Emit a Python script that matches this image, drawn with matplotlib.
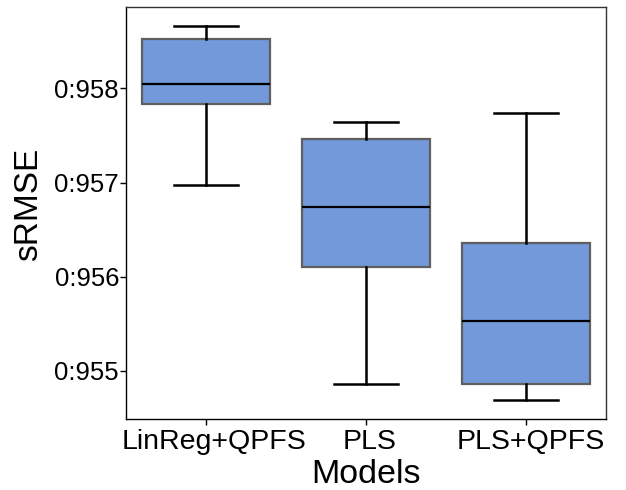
import numpy as np
import matplotlib
matplotlib.use("Agg")
import matplotlib.pyplot as plt
import matplotlib.transforms as mtrans
from matplotlib.ticker import FixedLocator, FixedFormatter

plt.rcParams['font.family'] = ['Liberation Sans', 'DejaVu Sans']

models = ["LinReg+QPFS", "PLS", "PLS+QPFS"]
whisker_lo = [0.956975, 0.954862, 0.954689]
q1 = [0.957838, 0.956101, 0.954862]
median = [0.958043, 0.956738, 0.955528]
q3 = [0.958528, 0.957460, 0.956355]
whisker_hi = [0.958662, 0.957643, 0.957736]

yticks = [0.955, 0.956, 0.957, 0.958]
ytick_labels = ["0:955", "0:956", "0:957", "0:958"]

stats = []
for i, name in enumerate(models):
    stats.append(dict(label=name, whislo=whisker_lo[i], q1=q1[i], med=median[i],
                      q3=q3[i], whishi=whisker_hi[i], fliers=[]))

fig = plt.figure(figsize=(6.26, 4.9), dpi=100)
ax = fig.add_axes([126/626, 1-419/490, 480/626, 412/490])

ax.bxp(stats, positions=range(len(models)), widths=0.8, patch_artist=True,
       showfliers=False,
       boxprops=dict(facecolor="#7399da", edgecolor="#5f5f5f", linewidth=1.6),
       medianprops=dict(color="black", linewidth=1.6),
       whiskerprops=dict(color="black", linewidth=1.8),
       capprops=dict(color="black", linewidth=1.8),
       capwidths=0.4)

ax.set_xlim(-0.5, 2.5)
ax.set_ylim(0.95449, 0.958864)
ax.yaxis.set_major_locator(FixedLocator(yticks))
ax.yaxis.set_major_formatter(FixedFormatter(ytick_labels))
ax.set_xticks(range(len(models)))
ax.set_xticklabels(models)
ax.tick_params(axis='both', length=4, width=1)
ax.tick_params(axis='y', labelsize=18.5, pad=1)
ax.tick_params(axis='x', labelsize=20.5, pad=3)

# labels sit a little right of their ticks
for lbl, dx in zip(ax.get_xticklabels(), [8, 4, 5]):
    lbl.set_transform(lbl.get_transform() +
                      mtrans.ScaledTranslation(dx/100, 0, fig.dpi_scale_trans))

ax.set_xlabel("Models", fontsize=24.5, labelpad=3)
ax.set_ylabel("sRMSE", fontsize=24)
ax.yaxis.set_label_coords(-0.17, 0.52)

for s in ax.spines.values():
    s.set_linewidth(1.0)
ax.spines['top'].set_color("#333333")
ax.spines['right'].set_color("#333333")

fig.savefig("out.png", dpi=100)
